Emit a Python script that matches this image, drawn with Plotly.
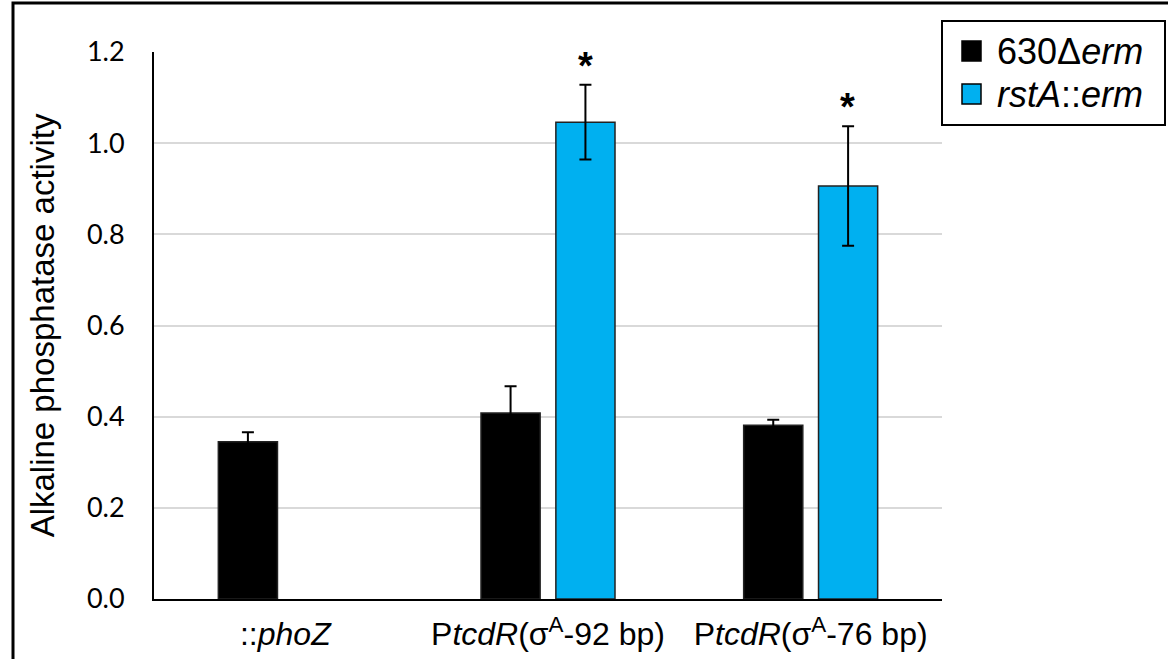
import plotly.graph_objects as go

categories = ["::<i>phoZ</i>",
              "P<i>tcdR</i>(σ<sup>A</sup>-92 bp)",
              "P<i>tcdR</i>(σ<sup>A</sup>-76 bp)"]
series_names = ["630Δ<i>erm</i>", "<i>rstA</i>::<i>erm</i>"]
wt_values = [0.345, 0.408, 0.381]
wt_errors = [0.021, 0.059, 0.012]
rsta_values = [None, 1.046, 0.906]
rsta_errors = [None, 0.082, 0.131]
star_labels = ["", "*", "*"]
y_ticks = [0.0, 0.2, 0.4, 0.6, 0.8, 1.0, 1.2]

BLUE = "#00B0F0"
W, H = 1168, 659
L, R, T, B = 154, 1168 - 942, 52, 659 - 599

fig = go.Figure()
fig.add_trace(go.Bar(
    x=categories, y=wt_values, name=series_names[0],
    marker=dict(color="black", line=dict(color="#222", width=1.5)),
    error_y=dict(type="data", array=wt_errors, color="black", thickness=2, width=6),
    showlegend=False,
))
fig.add_trace(go.Bar(
    x=categories, y=rsta_values, name=series_names[1],
    marker=dict(color=BLUE, line=dict(color="#222", width=1.5)),
    error_y=dict(type="data", array=rsta_errors, color="black", thickness=2, width=6),
    showlegend=False,
))

# significance asterisks above error bars
for i, s in enumerate(star_labels):
    if s and rsta_values[i] is not None:
        fig.add_annotation(
            x=categories[i], y=rsta_values[i] + rsta_errors[i], text="<b>" + s + "</b>",
            xref="x", yref="y", xshift=37, yshift=-4, yanchor="bottom",
            showarrow=False, font=dict(family="Liberation Sans", size=38, color="black"),
        )

pw = W - L - R
ph = H - T - B
def px_x(p):
    return (p - L) / pw
def px_y(p):
    return (H - B - p) / ph

shapes = []
# outer frame (cut off at right and bottom)
shapes.append(dict(type="rect", xref="paper", yref="paper",
                   x0=px_x(13), x1=px_x(1180), y0=px_y(3), y1=px_y(680),
                   line=dict(color="black", width=3), fillcolor="rgba(0,0,0,0)", layer="above"))
# legend box
shapes.append(dict(type="rect", xref="paper", yref="paper",
                   x0=px_x(942), x1=px_x(1165), y0=px_y(21), y1=px_y(125),
                   line=dict(color="black", width=2), fillcolor="white", layer="above"))
legend_colors = ["black", BLUE]
legend_rows = [51, 94]
for name, col, yc in zip(series_names, legend_colors, legend_rows):
    shapes.append(dict(type="rect", xref="paper", yref="paper",
                       x0=px_x(962), x1=px_x(981), y0=px_y(yc - 10), y1=px_y(yc + 10),
                       line=dict(color="black", width=1.5), fillcolor=col, layer="above"))
    fig.add_annotation(x=px_x(995), y=px_y(yc), xref="paper", yref="paper",
                       text=name, showarrow=False, xanchor="left", yanchor="middle",
                       font=dict(family="Liberation Sans", size=36, color="black"))

fig.update_layout(
    width=W, height=H,
    margin=dict(l=L, r=R, t=T, b=B, pad=0),
    paper_bgcolor="white", plot_bgcolor="white",
    barmode="group", bargap=0.43, bargroupgap=0.21,
    shapes=shapes,
    font=dict(family="Liberation Sans", color="black"),
    xaxis=dict(
        automargin=False,
        showline=True, linecolor="black", linewidth=2,
        showgrid=False, ticks="", tickfont=dict(family="Liberation Sans", size=32, color="black"),
        ticklabelstandoff=6,
    ),
    yaxis=dict(
        automargin=False,
        range=[0, 1.2], tickvals=y_ticks, tickformat=".1f",
        showline=True, linecolor="black", linewidth=2,
        showgrid=True, gridcolor="#d9d9d9", gridwidth=2,
        zeroline=False, ticks="",
        tickfont=dict(family="Lato", size=27, color="black"),
        ticklabelstandoff=22,
        title=dict(text="Alkaline phosphatase activity",
                   font=dict(family="Liberation Sans", size=33, color="black"), standoff=22),
    ),
)

fig.write_html("out.html", config={"displayModeBar": False},
               post_script="document.body.style.margin='0px';")
